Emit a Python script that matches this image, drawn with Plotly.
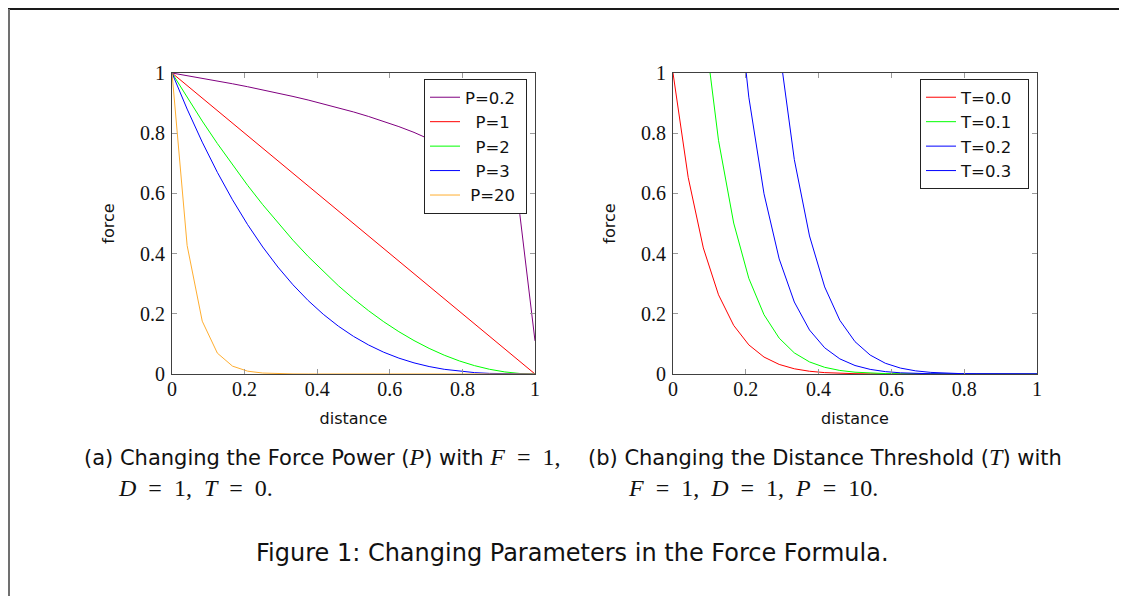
import plotly.graph_objects as go

# ---------------- data ----------------
distance = [0, 0.0417, 0.0833, 0.125, 0.1667, 0.2083, 0.25, 0.2917, 0.3333, 0.375,
            0.4167, 0.4583, 0.5, 0.5417, 0.5833, 0.625, 0.6667, 0.7083, 0.75, 0.7917,
            0.8333, 0.875, 0.9167, 0.9583, 1]

force_p02 = [1, 0.9915, 0.9828, 0.9737, 0.9642, 0.9544, 0.9441, 0.9334, 0.9221, 0.9103,
             0.8978, 0.8846, 0.8706, 0.8555, 0.8394, 0.8219, 0.8027, 0.7816, 0.7579, 0.7307,
             0.6988, 0.6598, 0.6084, 0.5296, 0.11]
force_p1 = [1, 0.9583, 0.9167, 0.875, 0.8333, 0.7917, 0.75, 0.7083, 0.6667, 0.625,
            0.5833, 0.5417, 0.5, 0.4583, 0.4167, 0.375, 0.3333, 0.2917, 0.25, 0.2083,
            0.1667, 0.125, 0.0833, 0.0417, 0]
force_p2 = [1, 0.9184, 0.8403, 0.7656, 0.6944, 0.6267, 0.5625, 0.5017, 0.4444, 0.3906,
            0.3403, 0.2934, 0.25, 0.2101, 0.1736, 0.1406, 0.1111, 0.0851, 0.0625, 0.0434,
            0.0278, 0.0156, 0.0069, 0.0017, 0]
force_p3 = [1, 0.8801, 0.7703, 0.6699, 0.5787, 0.4962, 0.4219, 0.3554, 0.2963, 0.2441,
            0.1985, 0.1589, 0.125, 0.0963, 0.0723, 0.0527, 0.037, 0.0248, 0.0156, 0.009,
            0.0046, 0.002, 0.0006, 0.0001, 0]
force_p20 = [1, 0.4269, 0.1755, 0.0692, 0.0261, 0.0094, 0.0032, 0.001, 0.0003, 0.0001,
             0, 0, 0, 0, 0, 0, 0, 0, 0, 0, 0, 0, 0, 0, 0]

force_t00 = [1, 0.6534, 0.4189, 0.2631, 0.1615, 0.0967, 0.0563, 0.0318, 0.0173, 0.0091,
             0.0046, 0.0022, 0.001, 0.0004, 0.0002, 0.0001, 0, 0, 0, 0, 0, 0, 0, 0, 0]
force_t01 = [2.5937, 1.7629, 1.1797, 0.7763, 0.5016, 0.3177, 0.1969, 0.1191, 0.0701, 0.0401,
             0.0222, 0.0118, 0.0060, 0.0029, 0.0014, 0.0006, 0.0002, 0.0001, 0, 0,
             0, 0, 0, 0, 0]
force_t02 = [6.1917, 4.357, 3.0146, 2.061, 1.3877, 0.9197, 0.5987, 0.3824, 0.2391, 0.1461,
             0.087, 0.0503, 0.0282, 0.0153, 0.0079, 0.004, 0.0019, 0.0008, 0.0003, 0.0001,
             0, 0, 0, 0, 0]
force_t03 = [13.786, 9.95, 7.107, 5.014, 3.496, 2.404, 1.6289, 1.0865, 0.7124, 0.4586,
             0.2892, 0.1784, 0.1074, 0.0629, 0.0357, 0.0196, 0.0104, 0.0053, 0.0025, 0.0012,
             0.0005, 0.0002, 0.0001, 0, 0]

tick_vals = [0, 0.2, 0.4, 0.6, 0.8, 1]
tick_text = ["0", "0.2", "0.4", "0.6", "0.8", "1"]

NB = "\u00a0"
left_names = ["P=0.2" + NB, NB * 2 + "P=1", NB * 2 + "P=2", NB * 2 + "P=3", NB + "P=20"]
left_series = [force_p02, force_p1, force_p2, force_p3, force_p20]
left_colors = ["#800080", "#ff0000", "#00ff00", "#0000ff", "#ffae30"]

right_names = ["T=0.0" + NB * 2, "T=0.1", "T=0.2", "T=0.3"]
right_series = [force_t00, force_t01, force_t02, force_t03]
right_colors = ["#ff0000", "#00ff00", "#0000ff", "#0000ff"]

# ---------------- figure ----------------
W, H = 1127, 596
OFF = 8  # the page body margin shifts the figure by 8 px on screen
fig = go.Figure()

for name, ys, col in zip(left_names, left_series, left_colors):
    fig.add_trace(go.Scatter(x=distance, y=ys, mode="lines", name=name,
                             line=dict(color=col, width=1),
                             xaxis="x", yaxis="y", legend="legend"))
for name, ys, col in zip(right_names, right_series, right_colors):
    fig.add_trace(go.Scatter(x=distance, y=ys, mode="lines", name=name,
                             line=dict(color=col, width=1),
                             xaxis="x2", yaxis="y2", legend="legend2"))

def px_x(p):
    return (p - OFF) / W

def px_y(p):
    return 1 - (p - OFF) / H

serif = "Liberation Serif, DejaVu Serif, serif"
sans = "DejaVu Sans, sans-serif"

axis_common = dict(
    range=[0, 1], tickvals=tick_vals, ticktext=tick_text,
    showline=True, linecolor="#404040", linewidth=1.2, mirror="ticks",
    ticks="inside", ticklen=5, tickcolor="#9a9a9a", tickwidth=1,
    showgrid=False, zeroline=False, fixedrange=True, automargin=False,
    tickfont=dict(family=serif, size=20, color="#111111"),
)

fig.update_layout(
    template="none",
    width=W, height=H, autosize=False,
    margin=dict(l=0, r=0, t=0, b=0, pad=0),
    paper_bgcolor="white", plot_bgcolor="white",
    font=dict(family=sans, color="#111111"),
    xaxis=dict(domain=[px_x(172), px_x(535)], anchor="y", ticklabelstandoff=-3,
               title=dict(text="distance", font=dict(family=sans, size=16), standoff=13),
               **axis_common),
    yaxis=dict(domain=[px_y(374), px_y(73)], anchor="x", ticklabelstandoff=2,
               title=dict(text="force", font=dict(family=sans, size=16), standoff=21),
               **axis_common),
    xaxis2=dict(domain=[px_x(673), px_x(1037)], anchor="y2", ticklabelstandoff=-3,
                title=dict(text="distance", font=dict(family=sans, size=16), standoff=13),
                **axis_common),
    yaxis2=dict(domain=[px_y(374), px_y(73)], anchor="x2", ticklabelstandoff=2,
                title=dict(text="force", font=dict(family=sans, size=16), standoff=21),
                **axis_common),
    legend=dict(x=px_x(527), y=px_y(79), xanchor="right", yanchor="top",
                bgcolor="white", bordercolor="#222222", borderwidth=1,
                font=dict(family=sans, size=16.5, color="#111111"),
                itemwidth=30, tracegroupgap=0),
    legend2=dict(x=px_x(1029), y=px_y(79), xanchor="right", yanchor="top",
                 bgcolor="white", bordercolor="#222222", borderwidth=1,
                 font=dict(family=sans, size=16.5, color="#111111"),
                 itemwidth=30, tracegroupgap=0),
    showlegend=True,
)

# page frame (top rule and left rule of the page crop)
fig.add_shape(type="line", xref="paper", yref="paper",
              x0=px_x(7), x1=1, y0=px_y(9), y1=px_y(9),
              line=dict(color="#1a1a1a", width=2))
fig.add_shape(type="line", xref="paper", yref="paper",
              x0=px_x(9), x1=px_x(9), y0=0, y1=px_y(9),
              line=dict(color="#707070", width=2))

SP = NB * 2

def m(s):
    return f'<span style="font-family:{serif};font-size:24px"><i>{s}</i></span>'

def r(s):
    return f'<span style="font-family:{serif};font-size:24px">{s}</span>'

def eq(var, val):
    return f"{m(var)}{r(SP + '=' + SP + val)}"

cap_font = dict(family=sans, size=21, color="#111111")
captions = [
    (82, 457, f"(a) Changing the Force Power ({m('P')}) with {eq('F', '1,')}"),
    (116, 488, f"{eq('D', '1,')}{r(SP)}{eq('T', '0.')}"),
    (586, 457, f"(b) Changing the Distance Threshold ({m('T')}) with"),
    (626, 488, f"{eq('F', '1,')}{r(SP)}{eq('D', '1,')}{r(SP)}{eq('P', '10.')}"),
]
for x, y, t in captions:
    fig.add_annotation(text=t, xref="paper", yref="paper", x=px_x(x), y=px_y(y),
                       xanchor="left", yanchor="middle", showarrow=False, font=cap_font)

fig.add_annotation(text="Figure 1: Changing Parameters in the Force Formula.",
                   xref="paper", yref="paper", x=px_x(572), y=px_y(553),
                   xanchor="center", yanchor="middle", showarrow=False,
                   font=dict(family=sans, size=24, color="#111111"))

fig.write_html("out.html")
